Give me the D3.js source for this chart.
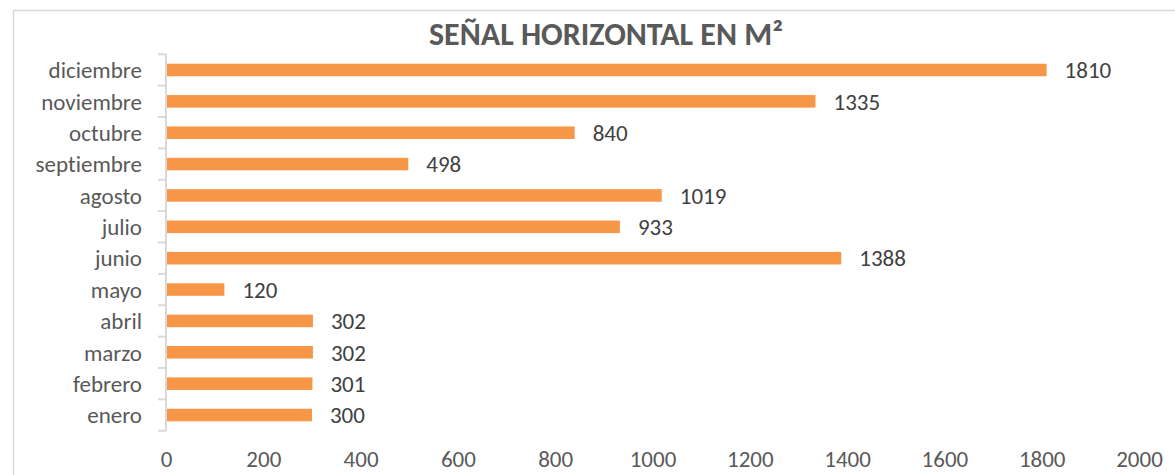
<!DOCTYPE html>
<head>
  <meta charset="utf-8">
  <script src="https://d3js.org/d3.v7.min.js"></script>
  <style>
    body { margin: 0; background: #fff; }
    text { font-family: Carlito, Calibri, Lato, sans-serif; font-variant-ligatures: none; }
  </style>
</head>
<body>
  <svg width="1175" height="475"></svg>
  <script>
    const months = ['enero', 'febrero', 'marzo', 'abril', 'mayo', 'junio',
      'julio', 'agosto', 'septiembre', 'octubre', 'noviembre', 'diciembre'];
    const values = [300, 301, 302, 302, 120, 1388, 933, 1019, 498, 840, 1335, 1810];
    const xTicks = [0, 200, 400, 600, 800, 1000, 1200, 1400, 1600, 1800, 2000];
    const title = 'SEÑAL HORIZONTAL EN M²';

    const data = months.map((m, i) => ({ month: m, value: values[i] }));

    const svg = d3.select('svg');
    const fontSize = 23;

    // chart frame (runs off the right and bottom edges)
    svg.append('rect')
      .attr('x', 13.5).attr('y', 10.5)
      .attr('width', 1200).attr('height', 500)
      .attr('fill', 'none').attr('stroke', '#d9d9d9').attr('stroke-width', 1.5);

    const x = d3.scaleLinear().domain([0, 2000]).range([166, 1139]);
    const y = d3.scaleBand()
      .domain(months.slice().reverse())
      .range([54.3, 430.7])
      .paddingInner(0.6).paddingOuter(0.3);

    svg.append('text')
      .attr('x', 606).attr('y', 45)
      .attr('text-anchor', 'middle')
      .attr('font-size', 32).attr('font-weight', 'bold')
      .attr('fill', '#595959')
      .text(title);

    // bars
    svg.append('g').selectAll('rect')
      .data(data)
      .join('rect')
      .attr('x', x(0))
      .attr('y', d => y(d.month))
      .attr('width', d => x(d.value) - x(0))
      .attr('height', y.bandwidth())
      .attr('fill', '#f79646');

    // value labels
    svg.append('g').selectAll('text')
      .data(data)
      .join('text')
      .attr('x', d => x(d.value) + 18)
      .attr('y', d => y(d.month) + y.bandwidth() / 2)
      .attr('dy', '0.36em')
      .attr('font-size', fontSize)
      .attr('fill', '#404040')
      .text(d => d.value);

    // category axis
    const step = y.step();
    const yAxis = svg.append('g');
    yAxis.append('line')
      .attr('x1', x(0)).attr('x2', x(0))
      .attr('y1', 54.3).attr('y2', 430.7)
      .attr('stroke', '#d9d9d9').attr('stroke-width', 2);
    yAxis.selectAll('line.tick')
      .data(d3.range(months.length + 1))
      .join('line')
      .attr('class', 'tick')
      .attr('x1', x(0) - 8).attr('x2', x(0))
      .attr('y1', i => 54.3 + i * step).attr('y2', i => 54.3 + i * step)
      .attr('stroke', '#d9d9d9').attr('stroke-width', 2);
    yAxis.selectAll('text')
      .data(months)
      .join('text')
      .attr('x', x(0) - 24)
      .attr('y', m => y(m) + y.bandwidth() / 2)
      .attr('dy', '0.36em')
      .attr('text-anchor', 'end')
      .attr('font-size', fontSize)
      .attr('fill', '#595959')
      .text(m => m);

    // value axis: labels only
    const xAxis = svg.append('g')
      .attr('transform', 'translate(0,451)')
      .call(d3.axisBottom(x).tickValues(xTicks).tickFormat(d3.format('d'))
        .tickSize(0).tickPadding(0));
    xAxis.select('.domain').remove();
    xAxis.selectAll('text')
      .attr('font-size', fontSize)
      .attr('fill', '#595959')
      .attr('font-family', 'Carlito, Calibri, Lato, sans-serif');
  </script>
</body>
